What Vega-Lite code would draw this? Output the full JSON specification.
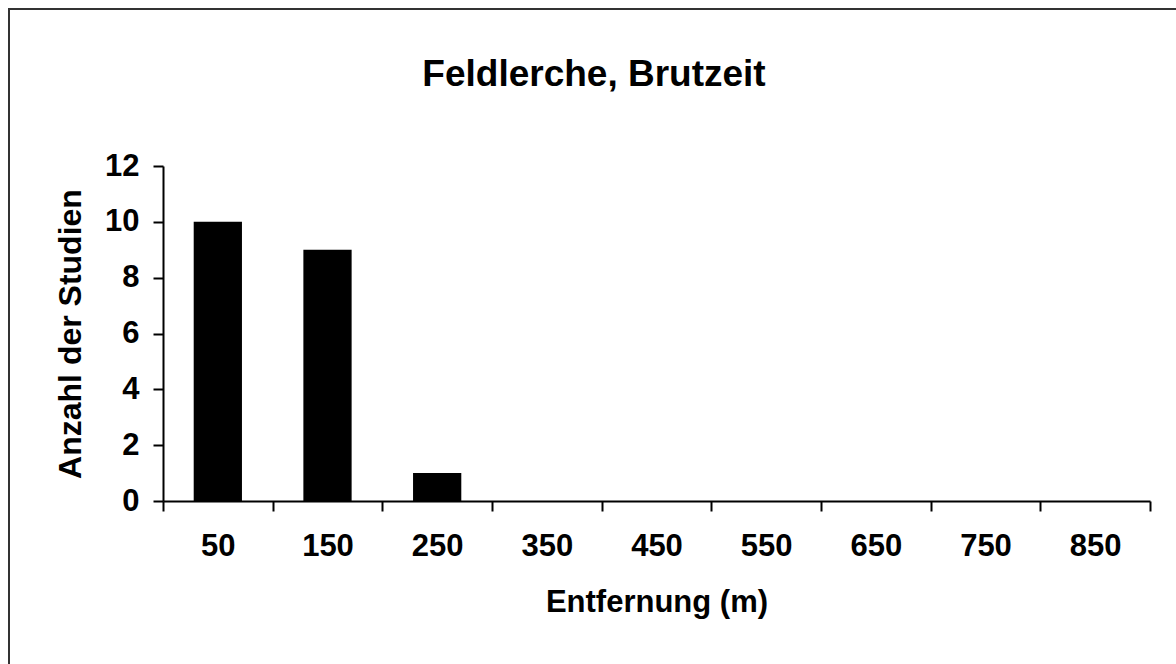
{
  "$schema": "https://vega.github.io/schema/vega-lite/v6.json",
  "autosize": "none",
  "padding": {"left": 9, "top": 9, "right": 0, "bottom": 0},
  "width": 1170,
  "height": 670,
  "background": "white",
  "title": {
    "text": "Feldlerche, Brutzeit",
    "fontSize": 37,
    "font": "Liberation Sans",
    "fontWeight": "bold",
    "color": "black",
    "anchor": "middle",
    "frame": "group",
    "baseline": "alphabetic",
    "dy": 118
  },
  "data": {
    "values": [
      {"Entfernung": 50, "Anzahl": 10},
      {"Entfernung": 150, "Anzahl": 9},
      {"Entfernung": 250, "Anzahl": 1},
      {"Entfernung": 350, "Anzahl": 0},
      {"Entfernung": 450, "Anzahl": 0},
      {"Entfernung": 550, "Anzahl": 0},
      {"Entfernung": 650, "Anzahl": 0},
      {"Entfernung": 750, "Anzahl": 0},
      {"Entfernung": 850, "Anzahl": 0}
    ]
  },
  "mark": {"type": "bar", "color": "black", "width": {"band": 0.44}},
  "encoding": {
    "x": {
      "field": "Entfernung",
      "type": "ordinal",
      "scale": {"range": [154, 1141], "paddingInner": 0, "paddingOuter": 0},
      "axis": {
        "title": "Entfernung (m)",
        "offset": -178,
        "labelAngle": 0,
        "tickBand": "extent",
        "tickSize": 10,
        "tickWidth": 2,
        "tickColor": "black",
        "domainColor": "black",
        "domainWidth": 2,
        "labelFont": "Liberation Sans",
        "labelFontSize": 31,
        "labelFontWeight": "bold",
        "labelColor": "black",
        "labelPadding": 20,
        "titleFont": "Liberation Sans",
        "titleFontSize": 31,
        "titleFontWeight": "bold",
        "titleColor": "black",
        "titlePadding": 26,
        "grid": false
      }
    },
    "y": {
      "field": "Anzahl",
      "type": "quantitative",
      "scale": {"domain": [0, 12], "range": [492, 157], "nice": false, "zero": true},
      "axis": {
        "title": "Anzahl der Studien",
        "offset": -154,
        "values": [0, 2, 4, 6, 8, 10, 12],
        "tickSize": 10,
        "tickWidth": 2,
        "tickColor": "black",
        "domainColor": "black",
        "domainWidth": 2,
        "labelFont": "Liberation Sans",
        "labelFontSize": 31,
        "labelFontWeight": "bold",
        "labelColor": "black",
        "labelPadding": 14,
        "titleFont": "Liberation Sans",
        "titleFontSize": 32,
        "titleFontWeight": "bold",
        "titleColor": "black",
        "titlePadding": 17,
        "grid": false
      }
    }
  },
  "config": {
    "view": {"stroke": "#333333", "strokeWidth": 2, "fill": "white"}
  }
}
